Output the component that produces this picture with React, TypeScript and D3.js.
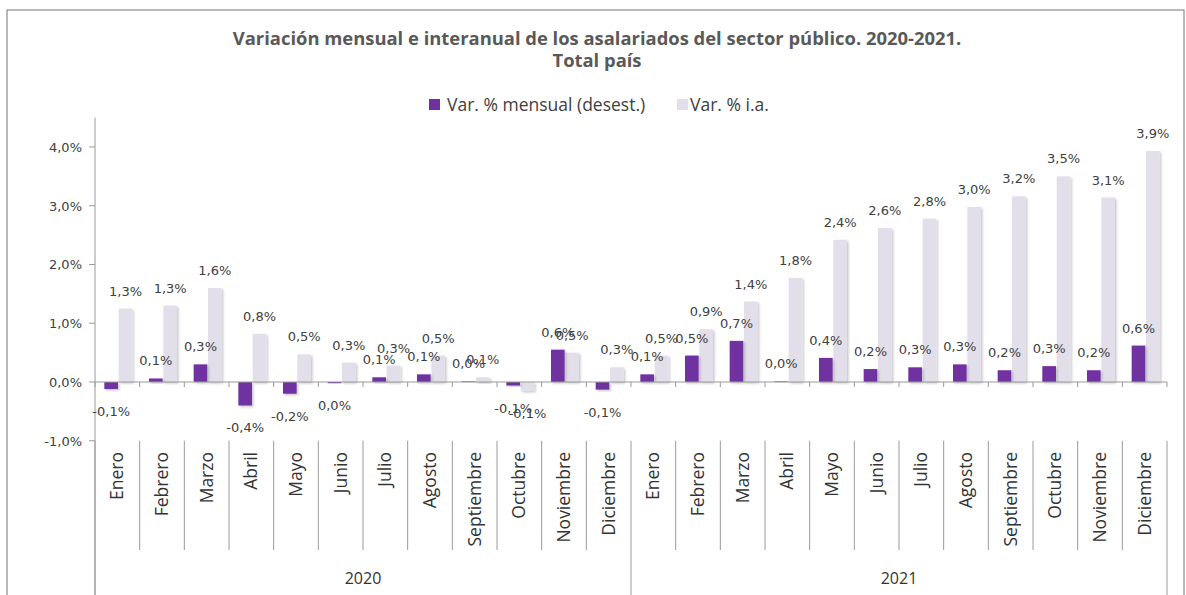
import React from 'react';
import * as d3 from 'd3';

const months = ['Enero', 'Febrero', 'Marzo', 'Abril', 'Mayo', 'Junio', 'Julio', 'Agosto', 'Septiembre', 'Octubre', 'Noviembre', 'Diciembre'];
const years = ['2020', '2021'];
const seriesNames = ['Var. % mensual (desest.)', 'Var. % i.a.'];

// monthly variation, seasonally adjusted (%)
const mensual = [-0.12, 0.06, 0.3, -0.4, -0.2, -0.02, 0.08, 0.13, 0.01, -0.06, 0.55, -0.13,
  0.13, 0.45, 0.7, 0.01, 0.41, 0.22, 0.25, 0.3, 0.2, 0.27, 0.2, 0.62];
// year-on-year variation (%)
const interanual = [1.25, 1.3, 1.6, 0.82, 0.47, 0.33, 0.28, 0.45, 0.08, -0.15, 0.5, 0.25,
  0.45, 0.9, 1.37, 1.77, 2.42, 2.62, 2.78, 2.98, 3.16, 3.5, 3.14, 3.93];
const yTicks = [-1, 0, 1, 2, 3, 4];

const PURPLE = '#7030a0';
const LIGHT = '#e3dfea';
const TEXT = '#404040';

const fmt = (v: number) => {
  let s = v.toFixed(1);
  if (s === '-0.0') s = '0.0';
  return s.replace('.', ',') + '%';
};

const App: React.FC = () => {
  const W = 1186;
  const H = 595;
  const left = 95;
  const right = 1167;

  const cats = years.flatMap(y => months.map(m => `${m}-${y}`));
  const x = d3.scaleBand<string>().domain(cats).range([left, right]);
  const bw = x.bandwidth();
  const sub = d3.scaleBand<string>().domain(['m', 'ia'])
    .range([bw / 2 - 13, bw / 2 + 15]).paddingInner(0.05);
  const y = d3.scaleLinear().domain([-1, 4.5]).range([440.75, 117.6]);

  const boundaries = d3.range(cats.length + 1).map(i => left + i * bw);

  const renderBar = (key: string, v: number, i: number, fill: string) => {
    const bx = (x(cats[i]) as number) + (sub(key) as number);
    const y0 = y(0);
    const yv = y(v);
    const top = Math.min(y0, yv);
    const h = Math.abs(yv - y0);
    const cx = bx + sub.bandwidth() / 2;
    const ly = v >= 0 ? top - 13 : top + h + 27;
    return (
      <g key={key + i}>
        <rect x={bx} y={top} width={sub.bandwidth()} height={Math.max(h, 0.5)} fill={fill} filter="url(#shadow)" />
        <text x={cx} y={ly} textAnchor="middle" fontSize={13} fill={TEXT} fontFamily="DejaVu Sans">{fmt(v)}</text>
      </g>
    );
  };

  return (
    <svg width={W} height={H} style={{ position: 'absolute', left: 0, top: 0, background: '#fff' }}>
      <defs>
        <filter id="shadow" x="-30%" y="-30%" width="160%" height="160%">
          <feDropShadow dx="1.5" dy="1.5" stdDeviation="1" floodColor="#000" floodOpacity="0.22" />
        </filter>
      </defs>
      <rect x={7} y={10} width={1177} height={600} fill="#fff" stroke="#8a8a8a" strokeWidth={1.2} />

      <text x={597} y={45} textAnchor="middle" fontFamily="Open Sans" fontWeight="bold" fontSize={18.4} fill="#595959">
        Variación mensual e interanual de los asalariados del sector público. 2020-2021.
      </text>
      <text x={597} y={67} textAnchor="middle" fontFamily="Open Sans" fontWeight="bold" fontSize={18.4} fill="#595959">
        Total país
      </text>

      {/* legend */}
      <rect x={429} y={99} width={11} height={11} fill={PURPLE} />
      <text x={447} y={111} fontFamily="Open Sans" fontSize={17.5} fill={TEXT}>{seriesNames[0]}</text>
      <rect x={677} y={99} width={11} height={11} fill={LIGHT} />
      <text x={690} y={111} fontFamily="Open Sans" fontSize={17.5} fill={TEXT}>{seriesNames[1]}</text>

      {/* y axis */}
      <line x1={left} x2={left} y1={y(4.5)} y2={595} stroke="#9a9a9a" />
      {yTicks.map(t => (
        <g key={t}>
          <line x1={left - 6} x2={left} y1={y(t)} y2={y(t)} stroke="#9a9a9a" />
          <text x={82} y={y(t) + 5} textAnchor="end" fontSize={13} fill={TEXT} fontFamily="DejaVu Sans">{fmt(t)}</text>
        </g>
      ))}

      {/* bars */}
      {interanual.map((v, i) => renderBar('ia', v, i, LIGHT))}
      {mensual.map((v, i) => renderBar('m', v, i, PURPLE))}

      {/* zero line */}
      <line x1={left} x2={right} y1={y(0)} y2={y(0)} stroke="#9a9a9a" strokeWidth={1.2} />
      {boundaries.map((bx, i) => (
        <line key={'t' + i} x1={bx} x2={bx} y1={y(0)} y2={y(0) + 5} stroke="#9a9a9a" />
      ))}

      {/* category axis */}
      {boundaries.map((bx, i) => (
        <line key={'s' + i} x1={bx} x2={bx} y1={y(-1)} y2={i % 12 === 0 ? 595 : 550} stroke="#9a9a9a" />
      ))}
      {cats.map((c, i) => {
        const cx = (x(c) as number) + bw / 2 + 6;
        return (
          <text key={c} transform={`translate(${cx},452) rotate(-90)`} textAnchor="end"
            fontFamily="Open Sans" fontSize={17.5} fill="#333">{months[i % 12]}</text>
        );
      })}
      {years.map((yr, k) => (
        <text key={yr} x={left + (k * 12 + 6) * bw} y={584} textAnchor="middle"
          fontFamily="Open Sans" fontSize={16} fill="#333">{yr}</text>
      ))}
    </svg>
  );
};

export default App;
